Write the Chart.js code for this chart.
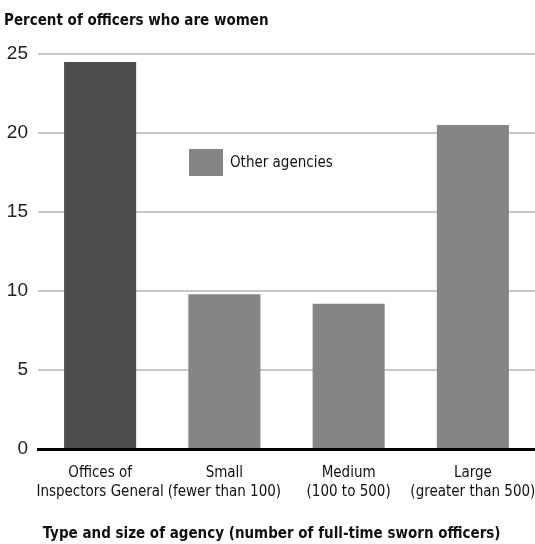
<!DOCTYPE html>
<html>
<head>
<meta charset="utf-8">
<script src="https://cdn.jsdelivr.net/npm/chart.js@4"></script>
<style>
  body { margin: 0; background: #fff; }
  #wrap { width: 535px; height: 544px; }
</style>
</head>
<body>
<div id="wrap"><canvas id="chart"></canvas></div>
<script>
// chart data
const categories = [
    ['Offices of', 'Inspectors General'],
    ['Small', '(fewer than 100)'],
    ['Medium', '(100 to 500)'],
    ['Large', '(greater than 500)']
];
const percentWomen = [24.5, 9.8, 9.2, 20.5];
const yTicks = [0, 5, 10, 15, 20, 25];
const legendLabel = 'Other agencies';

const igColor = '#4d4d4d';
const otherColor = '#858585';
const narrow = "'DejaVu Sans Condensed', 'Liberation Sans', sans-serif";

// legend drawn inside the plot, like the original
const innerLegend = {
    id: 'innerLegend',
    afterDraw(chart) {
        const ctx = chart.ctx;
        const area = chart.chartArea;
        const x = area.left + 151;
        const y = area.top + 95;
        ctx.save();
        ctx.fillStyle = otherColor;
        ctx.fillRect(x, y, 34, 27);
        ctx.fillStyle = '#111';
        ctx.font = '15px ' + narrow;
        ctx.textBaseline = 'middle';
        ctx.fillText(legendLabel, x + 41, y + 14);
        ctx.restore();
    }
};

const ctx = document.getElementById('chart').getContext('2d');
new Chart(ctx, {
    type: 'bar',
    data: {
        labels: categories,
        datasets: [{
            data: percentWomen,
            backgroundColor: percentWomen.map((v, i) => i === 0 ? igColor : otherColor),
            categoryPercentage: 1,
            barPercentage: 0.58
        }]
    },
    options: {
        responsive: true,
        maintainAspectRatio: false,
        animation: false,
        layout: { padding: { left: 4, right: 0, top: 0, bottom: 0 } },
        plugins: {
            legend: { display: false },
            tooltip: { enabled: false },
            title: {
                display: true,
                text: 'Percent of officers who are women',
                align: 'start',
                color: '#111',
                font: { family: narrow, size: 15, weight: 'bold', lineHeight: 1.2 },
                padding: { top: 12, bottom: 24 }
            }
        },
        scales: {
            x: {
                grid: { display: false },
                border: { display: true, color: '#000', width: 3 },
                ticks: {
                    color: '#111',
                    font: { family: narrow, size: 15, lineHeight: 1.3 },
                    padding: 6,
                    maxRotation: 0,
                    autoSkip: false
                },
                title: {
                    display: true,
                    align: 'start',
                    text: ' Type and size of agency (number of full-time sworn officers)',
                    color: '#111',
                    font: { family: narrow, size: 15, weight: 'bold' },
                    padding: { top: 17, bottom: 1 }
                },
                afterFit: scale => {
                    scale.height = 95;
                    // let the plot run to the right edge, as in the original
                    scale.paddingRight = 0;
                    scale.paddingLeft = 0;
                }
            },
            y: {
                min: 0,
                max: 25,
                afterBuildTicks: scale => { scale.ticks = yTicks.map(v => ({ value: v })); },
                grid: { color: '#c8c8c8', lineWidth: 2, drawTicks: false },
                border: { display: false },
                ticks: {
                    color: '#222',
                    font: { family: "'Liberation Sans', sans-serif", size: 19 },
                    padding: 10
                },
                afterFit: scale => { scale.width = 34; }
            }
        }
    },
    plugins: [innerLegend]
});
</script>
</body>
</html>
